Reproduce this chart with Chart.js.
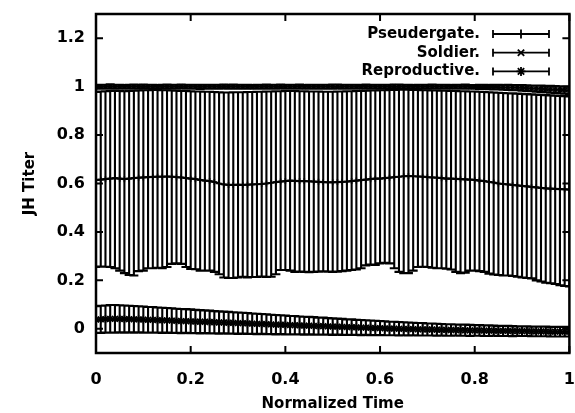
<!DOCTYPE html>
<html><head><meta charset="utf-8">
<script src="https://cdn.jsdelivr.net/npm/chart.js@4"></script>
<style>html,body{margin:0;padding:0;background:#fff}#wrap{width:575px;height:413px}</style>
</head><body><div id="wrap"><canvas id="c" width="575" height="413"></canvas></div>
<script>
const seriesNames = ['Pseudergate.', 'Soldier.', 'Reproductive.'];
const xTitle = 'Normalized Time';
const yTitle = 'JH Titer';
const xTickValues = [0, 0.2, 0.4, 0.6, 0.8, 1];
const yTickValues = [0, 0.2, 0.4, 0.6, 0.8, 1, 1.2];

const timeValues = [0.00,0.01,0.02,0.03,0.04,0.05,0.06,0.07,0.08,0.09,0.10,
0.11,0.12,0.13,0.14,0.15,0.16,0.17,0.18,0.19,0.20,
0.21,0.22,0.23,0.24,0.25,0.26,0.27,0.28,0.29,0.30,
0.31,0.32,0.33,0.34,0.35,0.36,0.37,0.38,0.39,0.40,
0.41,0.42,0.43,0.44,0.45,0.46,0.47,0.48,0.49,0.50,
0.51,0.52,0.53,0.54,0.55,0.56,0.57,0.58,0.59,0.60,
0.61,0.62,0.63,0.64,0.65,0.66,0.67,0.68,0.69,0.70,
0.71,0.72,0.73,0.74,0.75,0.76,0.77,0.78,0.79,0.80,
0.81,0.82,0.83,0.84,0.85,0.86,0.87,0.88,0.89,0.90,
0.91,0.92,0.93,0.94,0.95,0.96,0.97,0.98,0.99,1.00];

const pseudMean = [0.615,0.616,0.618,0.620,0.622,0.620,0.618,0.620,0.622,0.624,0.625,
0.626,0.627,0.628,0.628,0.629,0.628,0.626,0.625,0.622,0.620,
0.618,0.615,0.612,0.610,0.606,0.600,0.596,0.594,0.594,0.595,
0.594,0.595,0.596,0.597,0.598,0.600,0.603,0.606,0.608,0.610,
0.612,0.611,0.610,0.610,0.609,0.608,0.607,0.606,0.605,0.605,
0.606,0.607,0.608,0.610,0.612,0.614,0.616,0.618,0.620,0.620,
0.622,0.624,0.626,0.628,0.630,0.631,0.630,0.629,0.628,0.626,
0.625,0.624,0.622,0.620,0.620,0.619,0.618,0.617,0.616,0.615,
0.612,0.610,0.607,0.604,0.600,0.598,0.596,0.594,0.592,0.590,
0.588,0.586,0.584,0.582,0.580,0.579,0.578,0.577,0.576,0.575];

const pseudLow = [0.255,0.257,0.256,0.255,0.250,0.240,0.230,0.222,0.220,0.238,0.240,
0.250,0.250,0.252,0.250,0.255,0.268,0.270,0.268,0.255,0.247,
0.246,0.240,0.240,0.240,0.235,0.225,0.212,0.210,0.210,0.212,
0.215,0.212,0.214,0.214,0.216,0.214,0.215,0.225,0.243,0.243,
0.240,0.235,0.236,0.235,0.234,0.235,0.236,0.237,0.236,0.235,
0.236,0.238,0.240,0.243,0.245,0.250,0.262,0.265,0.264,0.270,
0.272,0.270,0.250,0.235,0.230,0.230,0.240,0.255,0.256,0.255,
0.252,0.250,0.250,0.248,0.245,0.235,0.230,0.232,0.240,0.240,
0.238,0.235,0.228,0.224,0.222,0.220,0.220,0.218,0.215,0.212,
0.210,0.208,0.200,0.195,0.190,0.188,0.185,0.180,0.177,0.175,0.175];

const pseudHigh = [0.978,0.980,0.981,0.982,0.983,0.982,0.981,0.982,0.983,0.984,0.985,
0.985,0.986,0.986,0.985,0.985,0.984,0.983,0.982,0.982,0.981,
0.980,0.980,0.979,0.979,0.978,0.977,0.976,0.976,0.977,0.977,
0.977,0.978,0.978,0.979,0.979,0.980,0.980,0.981,0.981,0.982,
0.982,0.982,0.981,0.981,0.980,0.980,0.980,0.979,0.979,0.979,
0.980,0.980,0.981,0.981,0.982,0.982,0.983,0.984,0.984,0.985,
0.985,0.986,0.986,0.987,0.987,0.987,0.986,0.986,0.985,0.985,
0.984,0.984,0.983,0.983,0.982,0.982,0.981,0.981,0.980,0.980,
0.979,0.978,0.977,0.976,0.975,0.974,0.973,0.972,0.971,0.970,
0.969,0.968,0.967,0.966,0.965,0.964,0.963,0.962,0.961,0.960];

const soldierMean = [0.999,1.000,1.000,1.001,1.000,1.000,0.999,1.000,1.000,1.000,1.001,
1.000,1.000,0.999,1.000,1.000,1.000,1.000,1.001,1.000,1.000,
1.000,0.999,1.000,1.000,1.000,1.000,1.001,1.000,1.000,1.000,
1.000,1.000,0.999,1.000,1.000,1.000,1.000,1.000,1.001,1.000,
1.000,1.000,1.000,0.999,1.000,1.000,1.000,1.000,1.000,1.000,
1.001,1.000,1.000,1.000,1.000,0.999,1.000,1.000,1.000,1.000,
1.000,1.000,1.001,1.000,1.000,1.000,0.999,1.000,1.000,1.000,
1.000,1.000,1.000,1.000,0.999,1.000,1.000,1.000,0.999,0.999,
0.999,0.999,0.998,0.998,0.998,0.997,0.997,0.996,0.996,0.995,
0.994,0.993,0.992,0.991,0.990,0.989,0.988,0.987,0.986,0.985];

const soldierErr = [0.008,0.008,0.008,0.009,0.008,0.008,0.008,0.008,0.009,0.008,0.008,
0.008,0.008,0.008,0.008,0.009,0.008,0.008,0.008,0.008,0.008,
0.008,0.009,0.008,0.008,0.008,0.008,0.008,0.008,0.009,0.008,
0.008,0.008,0.008,0.008,0.008,0.009,0.008,0.008,0.008,0.008,
0.008,0.008,0.009,0.008,0.008,0.008,0.008,0.008,0.008,0.009,
0.008,0.008,0.008,0.008,0.008,0.008,0.009,0.008,0.008,0.008,
0.008,0.008,0.008,0.009,0.008,0.008,0.008,0.008,0.008,0.008,
0.009,0.008,0.008,0.008,0.008,0.008,0.008,0.009,0.008,0.008,
0.009,0.009,0.009,0.010,0.010,0.010,0.011,0.011,0.011,0.012,
0.012,0.012,0.013,0.013,0.013,0.014,0.014,0.014,0.015,0.015];

const reproMean = [0.038,0.039,0.040,0.041,0.041,0.041,0.040,0.040,0.039,0.039,0.038,
0.037,0.037,0.036,0.035,0.035,0.034,0.033,0.032,0.032,0.031,
0.030,0.029,0.029,0.028,0.027,0.026,0.026,0.025,0.024,0.023,
0.023,0.022,0.021,0.020,0.020,0.019,0.018,0.017,0.017,0.016,
0.015,0.015,0.014,0.013,0.013,0.012,0.011,0.011,0.010,0.009,
0.009,0.008,0.007,0.007,0.006,0.005,0.005,0.004,0.003,0.003,
0.002,0.001,0.001,0.000,0.000,-0.001,-0.001,-0.002,-0.002,-0.003,
-0.003,-0.004,-0.004,-0.005,-0.005,-0.005,-0.006,-0.006,-0.007,-0.007,
-0.007,-0.008,-0.008,-0.008,-0.009,-0.009,-0.009,-0.010,-0.010,-0.010,
-0.010,-0.011,-0.011,-0.011,-0.011,-0.012,-0.012,-0.012,-0.012,-0.012];

const reproErr = [0.055,0.056,0.056,0.057,0.057,0.056,0.056,0.055,0.055,0.054,0.054,
0.053,0.053,0.052,0.052,0.051,0.051,0.050,0.050,0.049,0.049,
0.048,0.048,0.047,0.047,0.046,0.046,0.045,0.045,0.044,0.044,
0.043,0.043,0.042,0.042,0.041,0.041,0.040,0.040,0.039,0.039,
0.038,0.038,0.037,0.037,0.036,0.036,0.035,0.035,0.034,0.034,
0.033,0.033,0.032,0.032,0.031,0.031,0.030,0.030,0.030,0.029,
0.029,0.028,0.028,0.028,0.027,0.027,0.026,0.026,0.026,0.025,
0.025,0.025,0.024,0.024,0.024,0.023,0.023,0.023,0.023,0.022,
0.022,0.022,0.022,0.021,0.021,0.021,0.021,0.021,0.020,0.020,
0.020,0.020,0.020,0.020,0.020,0.020,0.020,0.020,0.020,0.020];

const pointStyles = ['cross', 'crossRot', 'star'];
const pointSizes = [3, 3, 4];

const errorRanges = [
  timeValues.map((t, i) => [pseudLow[i], pseudHigh[i]]),
  timeValues.map((t, i) => [soldierMean[i] - soldierErr[i], soldierMean[i] + soldierErr[i]]),
  timeValues.map((t, i) => [reproMean[i] - reproErr[i], reproMean[i] + reproErr[i]])
];
const means = [pseudMean, soldierMean, reproMean];

const FONT = 'DejaVu Sans';

const errorBarPlugin = {
  id: 'errorBars',
  beforeDatasetsDraw(chart) {
    const {ctx, chartArea, scales: {x, y}} = chart;
    ctx.save();
    ctx.beginPath();
    ctx.rect(chartArea.left, chartArea.top, chartArea.right - chartArea.left, chartArea.bottom - chartArea.top);
    ctx.clip();
    ctx.strokeStyle = '#000';
    ctx.lineWidth = 2.1;
    const cap = 4.5;
    errorRanges.forEach(ranges => {
      ctx.beginPath();
      ranges.forEach((r, i) => {
        const px = x.getPixelForValue(timeValues[i]);
        const lo = y.getPixelForValue(r[0]);
        const hi = y.getPixelForValue(r[1]);
        ctx.moveTo(px, lo); ctx.lineTo(px, hi);
        ctx.moveTo(px - cap, lo); ctx.lineTo(px + cap, lo);
        ctx.moveTo(px - cap, hi); ctx.lineTo(px + cap, hi);
      });
      ctx.stroke();
    });
    ctx.restore();
  },
  afterDraw(chart) {
    const {ctx, chartArea: a, scales: {x, y}} = chart;
    ctx.save();
    ctx.strokeStyle = '#000';
    ctx.lineWidth = 2;
    ctx.beginPath();
    const tl = 7;
    xTickValues.forEach(v => {
      const px = x.getPixelForValue(v);
      ctx.moveTo(px, a.bottom); ctx.lineTo(px, a.bottom - tl);
      ctx.moveTo(px, a.top); ctx.lineTo(px, a.top + tl);
    });
    yTickValues.forEach(v => {
      const py = y.getPixelForValue(v);
      ctx.moveTo(a.left, py); ctx.lineTo(a.left + tl, py);
      ctx.moveTo(a.right, py); ctx.lineTo(a.right - tl, py);
    });
    ctx.stroke();
    ctx.lineWidth = 2.5;
    ctx.strokeRect(a.left, a.top, a.right - a.left, a.bottom - a.top);
    // legend
    const textRight = 480, s0 = 493, s1 = 549, rowTop = 34, rowGap = 18.7;
    ctx.font = 'bold 15px "' + FONT + '"';
    ctx.fillStyle = '#000';
    ctx.textAlign = 'right';
    ctx.textBaseline = 'middle';
    seriesNames.forEach((name, i) => {
      const ry = rowTop + i * rowGap;
      ctx.fillText(name, textRight, ry);
      ctx.lineWidth = 1.8;
      ctx.beginPath();
      ctx.moveTo(s0, ry); ctx.lineTo(s1, ry);
      ctx.moveTo(s0, ry - 4); ctx.lineTo(s0, ry + 4);
      ctx.moveTo(s1, ry - 4); ctx.lineTo(s1, ry + 4);
      ctx.stroke();
      Chart.helpers.drawPoint(ctx, {pointStyle: pointStyles[i], radius: 4.5, rotation: 0, borderWidth: 2.2}, (s0 + s1) / 2, ry);
    });
    ctx.restore();
  }
};

const tickFmt = v => (Math.round(v * 10) / 10).toString();

new Chart(document.getElementById('c'), {
  type: 'line',
  data: {
    datasets: seriesNames.map((name, k) => ({
      label: name,
      data: timeValues.map((t, i) => ({x: t, y: means[k][i]})),
      borderColor: '#000',
      backgroundColor: '#000',
      borderWidth: 2.2,
      pointStyle: pointStyles[k],
      pointRadius: pointSizes[k],
      pointBorderWidth: 1.6,
      pointBorderColor: '#000',
      pointBackgroundColor: '#000',
      tension: 0,
      fill: false
    }))
  },
  options: {
    responsive: false,
    animation: false,
    devicePixelRatio: 1,
    layout: {padding: {top: 14, right: 4, left: 0, bottom: 0}},
    plugins: {legend: {display: false}, tooltip: {enabled: false}},
    scales: {
      x: {
        type: 'linear', min: 0, max: 1,
        afterBuildTicks: s => { s.ticks = xTickValues.map(v => ({value: v})); },
        afterFit: s => { s.height = 60; s.paddingLeft = 0; s.paddingRight = 0; },
        grid: {display: false, drawTicks: false},
        border: {display: false},
        ticks: {color: '#000', font: {family: FONT, size: 16, weight: 'bold'}, padding: 17, maxRotation: 0, autoSkip: false, callback: tickFmt},
        title: {display: true, text: xTitle, color: '#000', font: {family: FONT, size: 15, weight: 'bold'}, padding: {top: 3, bottom: 0}}
      },
      y: {
        type: 'linear', min: -0.1, max: 1.3,
        afterBuildTicks: s => { s.ticks = yTickValues.map(v => ({value: v})); },
        afterFit: s => { s.width = 96; s.paddingTop = 0; s.paddingBottom = 0; },
        grid: {display: false, drawTicks: false},
        border: {display: false},
        ticks: {color: '#000', font: {family: FONT, size: 16, weight: 'bold'}, padding: 11, autoSkip: false, callback: tickFmt},
        title: {display: true, text: yTitle, color: '#000', font: {family: FONT, size: 15, weight: 'bold'}, padding: {top: 21, bottom: 0}}
      }
    }
  },
  plugins: [errorBarPlugin]
});
</script></body></html>
